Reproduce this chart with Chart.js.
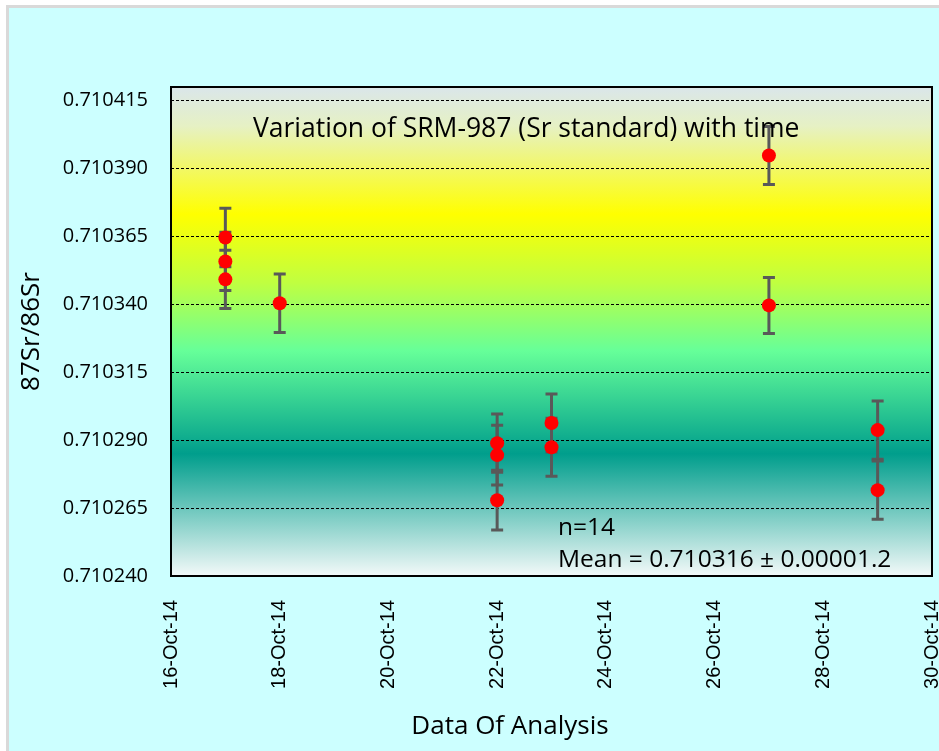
<!DOCTYPE html>
<html><head><meta charset="utf-8">
<script src="https://cdn.jsdelivr.net/npm/chart.js@4/dist/chart.umd.min.js"></script>
<style>html,body{margin:0;padding:0;background:#fff;overflow:hidden}#wrap{width:939px;height:751px;position:relative}</style>
</head><body><div id="wrap"><canvas id="c" width="939" height="751"></canvas></div>
<script>
// Day of October 2014 on which each analysis was made
const analysisDay = [17, 17, 17, 18, 22, 22, 22, 23, 23, 27, 27, 29, 29];
// Measured 87Sr/86Sr ratios
const srRatio = [0.7103646, 0.7103558, 0.7103492, 0.7103404, 0.7102889, 0.7102845, 0.7102679,
                 0.7102963, 0.7102874, 0.7103948, 0.7103396, 0.7102937, 0.7102716];
// Error (±) on each ratio
const srError = [0.0000108, 0.0000107, 0.0000107, 0.0000108, 0.0000107, 0.0000110, 0.0000110,
                 0.0000107, 0.0000107, 0.0000107, 0.0000103, 0.0000107, 0.0000107];
const xTickDays = [16, 18, 20, 22, 24, 26, 28, 30];
const xTickLabels = ['16-Oct-14', '18-Oct-14', '20-Oct-14', '22-Oct-14', '24-Oct-14', '26-Oct-14', '28-Oct-14', '30-Oct-14'];
const yTickValues = [0.710240, 0.710265, 0.710290, 0.710315, 0.710340, 0.710365, 0.710390, 0.710415];
const yTickLabels = ['0.710240', '0.710265', '0.710290', '0.710315', '0.710340', '0.710365', '0.710390', '0.710415'];
const chartTitle = 'Variation of SRM-987 (Sr standard) with time';
const noteLines = ['n=14', 'Mean = 0.710316 ± 0.00001.2'];
const xTitle = 'Data Of Analysis';
const yTitle = '87Sr/86Sr';

const decor = {
  id: 'decor',
  beforeDraw(chart) {
    const ctx = chart.ctx, a = chart.chartArea;
    ctx.save();
    ctx.fillStyle = '#ffffff';
    ctx.fillRect(0, 0, chart.width, chart.height);
    ctx.fillStyle = '#d9d9d9';
    ctx.fillRect(6, 5, chart.width, chart.height);
    ctx.fillStyle = '#ccffff';
    ctx.fillRect(9, 8, chart.width, chart.height);
    const g = ctx.createLinearGradient(0, a.top, 0, a.bottom);
    g.addColorStop(0, '#dae6ea');
    g.addColorStop(0.08, '#e6f1c4');
    g.addColorStop(0.26, '#ffff00');
    g.addColorStop(0.40, '#c0ff40');
    g.addColorStop(0.54, '#66ff99');
    g.addColorStop(0.75, '#009e8c');
    g.addColorStop(1, '#f3f9f9');
    ctx.fillStyle = g;
    ctx.fillRect(a.left, a.top, a.right - a.left, a.bottom - a.top);
    ctx.restore();
  },
  beforeDatasetsDraw(chart) {
    const ctx = chart.ctx, xs = chart.scales.x, ys = chart.scales.y;
    ctx.save();
    ctx.strokeStyle = '#595959';
    ctx.lineWidth = 3;
    analysisDay.forEach((d, i) => {
      const x = xs.getPixelForValue(d);
      const y1 = ys.getPixelForValue(srRatio[i] + srError[i]);
      const y2 = ys.getPixelForValue(srRatio[i] - srError[i]);
      ctx.beginPath();
      ctx.moveTo(x, y1); ctx.lineTo(x, y2);
      ctx.moveTo(x - 6, y1); ctx.lineTo(x + 6, y1);
      ctx.moveTo(x - 6, y2); ctx.lineTo(x + 6, y2);
      ctx.stroke();
    });
    ctx.restore();
  },
  afterDraw(chart) {
    const ctx = chart.ctx, a = chart.chartArea;
    ctx.save();
    ctx.strokeStyle = '#000';
    ctx.lineWidth = 2;
    ctx.strokeRect(a.left, a.top, a.right - a.left, a.bottom - a.top);
    ctx.fillStyle = '#000';
    ctx.textBaseline = 'alphabetic';
    ctx.textAlign = 'left';
    ctx.font = '26.5px "Open Sans"';
    ctx.fillText(chartTitle, 253, 137);
    ctx.font = '24.5px "Open Sans"';
    ctx.fillText(noteLines[0], 558, 535);
    ctx.fillText(noteLines[1], 558, 567);
    ctx.textAlign = 'center';
    ctx.font = '26px "Open Sans"';
    ctx.fillText(xTitle, 510, 734);
    ctx.restore();
  }
};

new Chart(document.getElementById('c'), {
  type: 'scatter',
  data: {
    datasets: [{
      data: analysisDay.map((d, i) => ({ x: d, y: srRatio[i] })),
      backgroundColor: '#ff0000',
      borderColor: '#ff0000',
      borderWidth: 0,
      pointRadius: 7,
      pointHoverRadius: 7
    }]
  },
  options: {
    responsive: false,
    animation: false,
    devicePixelRatio: 1,
    layout: { padding: { left: 9, top: 87, right: 5, bottom: 0 } },
    plugins: { legend: { display: false }, tooltip: { enabled: false } },
    scales: {
      x: {
        type: 'linear', min: 16, max: 30,
        afterBuildTicks: s => { s.ticks = xTickDays.map(v => ({ value: v })); },
        afterFit: s => { s.height = 175; s.paddingLeft = 0; s.paddingRight = 0; },
        ticks: {
          autoSkip: false, maxRotation: 90, minRotation: 90, padding: 24, color: '#000',
          font: { family: 'Liberation Sans', size: 20 },
          callback: (v, i) => xTickLabels[i]
        },
        grid: { display: false, drawTicks: false },
        border: { display: false },
        title: { display: false }
      },
      y: {
        type: 'linear', min: 0.71024, max: 0.71042,
        afterBuildTicks: s => { s.ticks = yTickValues.map(v => ({ value: v })); },
        afterFit: s => { s.width = 162; s.paddingTop = 0; s.paddingBottom = 0; },
        ticks: {
          padding: 23, color: '#000',
          font: { family: 'Open Sans', size: 20 },
          callback: (v, i) => yTickLabels[i]
        },
        grid: { color: '#000', lineWidth: 1, drawTicks: false },
        border: { display: false, dash: [3, 2] },
        title: { display: true, text: yTitle, color: '#000', font: { family: 'Open Sans', size: 26 }, padding: { top: 7, bottom: 0 } }
      }
    }
  },
  plugins: [decor]
});
</script></body></html>
